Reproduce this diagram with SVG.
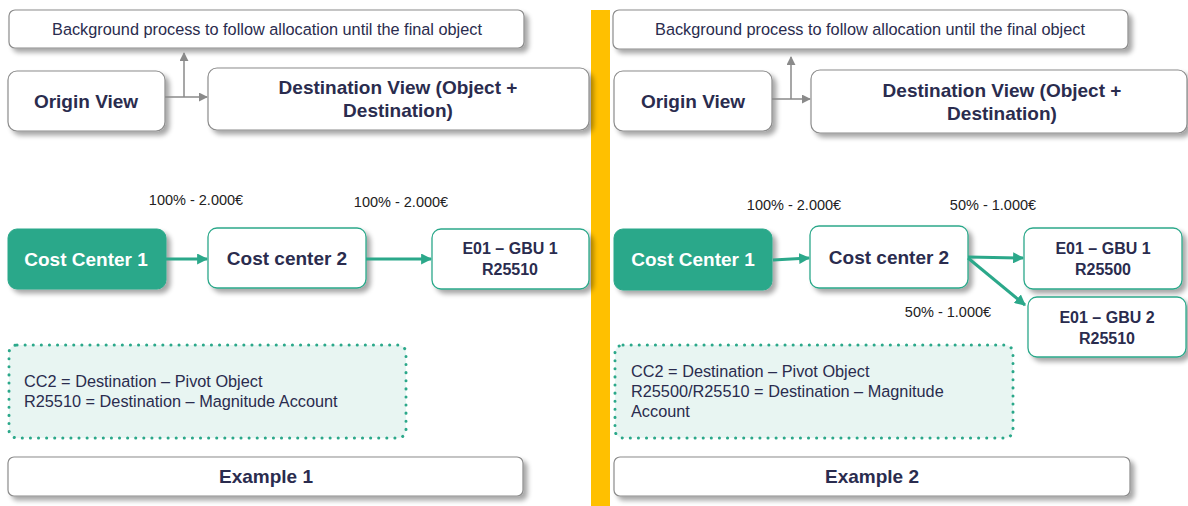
<svg xmlns="http://www.w3.org/2000/svg" width="1188" height="506" viewBox="0 0 1188 506">
<defs>
<filter id="sh" x="-10%" y="-20%" width="125%" height="160%">
<feGaussianBlur in="SourceAlpha" stdDeviation="2.5"/>
<feOffset dx="4" dy="4" result="b"/>
<feComponentTransfer><feFuncA type="linear" slope="0.35"/></feComponentTransfer>
<feMerge><feMergeNode/><feMergeNode in="SourceGraphic"/></feMerge>
</filter>
<marker id="ag" viewBox="0 0 10 10" refX="9" refY="5" markerWidth="9" markerHeight="9" markerUnits="userSpaceOnUse" orient="auto"><path d="M0,0 L10,5 L0,10 z" fill="#8a8a8a"/></marker>
<marker id="at" viewBox="0 0 10 10" refX="9" refY="5" markerWidth="11" markerHeight="11" markerUnits="userSpaceOnUse" orient="auto"><path d="M0,0 L10,5 L0,10 z" fill="#2ba88a"/></marker>
</defs>
<style>
text{font-family:"Liberation Sans",Arial,sans-serif;fill:#2a2c4e}
.gbox{fill:#fff;stroke:#8c8c8c;stroke-width:1.2}
.tbox{fill:#fff;stroke:#2ba88a;stroke-width:1.3}
.fbox{fill:#2ba88a;stroke:#2ba88a}
.dbox{fill:#e8f5f2;stroke:#2ba88a;stroke-width:3;stroke-dasharray:0.1 8;stroke-linecap:round}
.hdr{font-size:16.3px;text-anchor:middle}
.big{font-size:19px;font-weight:bold;text-anchor:middle}
.mid{font-size:16px;font-weight:bold;text-anchor:middle}
.lbl{font-size:14.5px;text-anchor:middle;fill:#222}
.note{font-size:16.3px}
.gl{stroke:#8a8a8a;stroke-width:1.5;fill:none}
.tl{stroke:#2ba88a;stroke-width:3;fill:none}
</style>
<rect x="591" y="10" width="19" height="496" fill="#ffc000"/>

<g id="bg1"><rect class="gbox" x="9" y="10" width="515" height="38" rx="6" filter="url(#sh)"/><text class="hdr" x="267" y="35">Background process to follow allocation until the final object</text></g>
<g id="origin1"><rect class="gbox" x="8" y="71" width="157" height="60" rx="9" filter="url(#sh)"/><text class="big" x="86" y="108">Origin View</text></g>
<g id="dest1"><rect class="gbox" x="208" y="68" width="381" height="62" rx="9" filter="url(#sh)"/><text class="big" x="398" y="94">Destination View (Object +</text><text class="big" x="398" y="117">Destination)</text></g>
<g id="cc1a"><rect class="fbox" x="8" y="229" width="158" height="60" rx="9" filter="url(#sh)"/><text class="big" x="86" y="266" style="fill:#fff">Cost Center 1</text></g>
<g id="cc2a"><rect class="tbox" x="208" y="228" width="158" height="60" rx="9" filter="url(#sh)"/><text class="big" x="287" y="265">Cost center 2</text></g>
<g id="gbu1a"><rect class="tbox" x="432" y="229" width="157" height="60" rx="9" filter="url(#sh)"/><text class="mid" x="510" y="254">E01 – GBU 1</text><text class="mid" x="510" y="275">R25510</text></g>
<g id="note1"><rect class="dbox" x="9" y="345" width="397" height="93" rx="8"/><text class="note" x="24" y="387">CC2 = Destination – Pivot Object</text><text class="note" x="24" y="407">R25510 = Destination – Magnitude Account</text></g>
<g id="ex1"><rect class="gbox" x="8" y="457" width="515" height="39" rx="6" filter="url(#sh)"/><text class="big" x="266" y="483">Example 1</text></g>

<g id="bg2"><rect class="gbox" x="613" y="10" width="515" height="39" rx="6" filter="url(#sh)"/><text class="hdr" x="870" y="35">Background process to follow allocation until the final object</text></g>
<g id="origin2"><rect class="gbox" x="614" y="71" width="158" height="60" rx="9" filter="url(#sh)"/><text class="big" x="693" y="108">Origin View</text></g>
<g id="dest2"><rect class="gbox" x="811" y="70" width="376" height="63" rx="9" filter="url(#sh)"/><text class="big" x="1002" y="97">Destination View (Object +</text><text class="big" x="1002" y="120">Destination)</text></g>
<g id="cc1b"><rect class="fbox" x="614" y="229" width="158" height="61" rx="9" filter="url(#sh)"/><text class="big" x="693" y="266" style="fill:#fff">Cost Center 1</text></g>
<g id="cc2b"><rect class="tbox" x="810" y="226" width="158" height="62" rx="9" filter="url(#sh)"/><text class="big" x="889" y="264">Cost center 2</text></g>
<g id="gbu1b"><rect class="tbox" x="1024" y="228" width="158" height="61" rx="9" filter="url(#sh)"/><text class="mid" x="1103" y="254">E01 – GBU 1</text><text class="mid" x="1103" y="275">R25500</text></g>
<g id="gbu2b"><rect class="tbox" x="1028" y="297" width="158" height="60" rx="9" filter="url(#sh)"/><text class="mid" x="1107" y="323">E01 – GBU 2</text><text class="mid" x="1107" y="344">R25510</text></g>
<g id="note2"><rect class="dbox" x="615" y="345" width="398" height="93" rx="8"/><text class="note" x="631" y="377">CC2 = Destination – Pivot Object</text><text class="note" x="631" y="397">R25500/R25510 = Destination – Magnitude</text><text class="note" x="631" y="417">Account</text></g>
<g id="ex2"><rect class="gbox" x="614" y="457" width="516" height="39" rx="6" filter="url(#sh)"/><text class="big" x="872" y="483">Example 2</text></g>

<g id="connectors">
<path class="gl" d="M165,97 H207" marker-end="url(#ag)"/>
<path class="gl" d="M184,97 V53" marker-end="url(#ag)"/>
<path class="tl" d="M166,259 H207" marker-end="url(#at)"/>
<path class="tl" d="M366,259 H431" marker-end="url(#at)"/>
<path class="gl" d="M772,99 H810" marker-end="url(#ag)"/>
<path class="gl" d="M791,99 V57" marker-end="url(#ag)"/>
<path class="tl" d="M773,260 L809,258" marker-end="url(#at)"/>
<path class="tl" d="M968,257 L1023,258" marker-end="url(#at)"/>
<path class="tl" d="M968,258 L1025,305" marker-end="url(#at)"/>
<text class="lbl" x="196" y="205">100% - 2.000€</text>
<text class="lbl" x="401" y="207">100% - 2.000€</text>
<text class="lbl" x="794" y="210">100% - 2.000€</text>
<text class="lbl" x="993" y="210">50% - 1.000€</text>
<text class="lbl" x="948" y="317">50% - 1.000€</text>
</g>
</svg>
